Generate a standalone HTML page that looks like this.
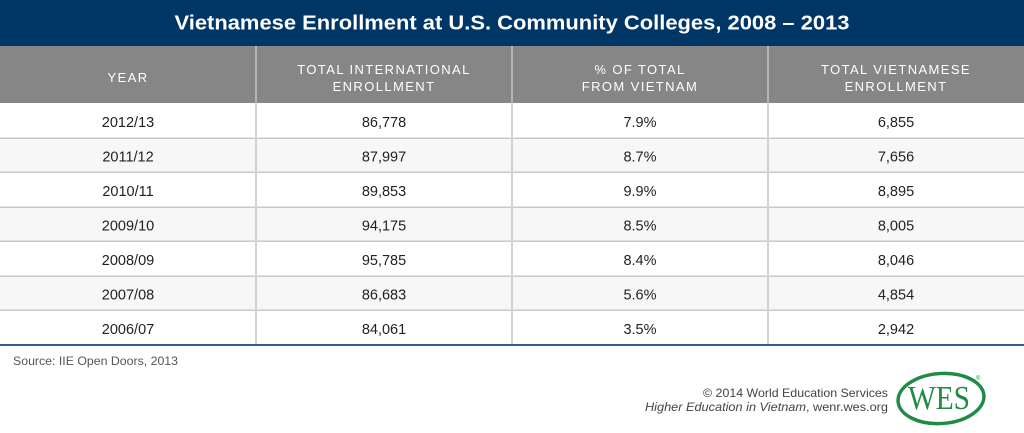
<!DOCTYPE html>
<html>
<head>
<meta charset="utf-8">
<style>
  html,body{margin:0;padding:0;background:#fff;}
  svg{display:block;}
  text{font-family:"Liberation Sans",sans-serif;}
</style>
</head>
<body>
<svg width="1024" height="433" viewBox="0 0 1024 433" xmlns="http://www.w3.org/2000/svg">
  <!-- title bar -->
  <rect x="0" y="0" width="1024" height="46" fill="#003665"/>
  <text x="512" y="29.5" text-anchor="middle" fill="#ffffff" font-size="20" font-weight="bold" textLength="675" lengthAdjust="spacingAndGlyphs">Vietnamese Enrollment at U.S. Community Colleges, 2008 – 2013</text>

  <!-- header -->
  <rect x="0" y="46" width="1024" height="57" fill="#868686"/>
  <g fill="#b4b4b4">
    <rect x="255" y="46" width="2" height="57"/>
    <rect x="511" y="46" width="2" height="57"/>
    <rect x="767" y="46" width="2" height="57"/>
  </g>
  <g fill="#ffffff" font-size="13" text-anchor="middle" letter-spacing="1.4">
    <text x="128" y="82">YEAR</text>
    <text x="384" y="74">TOTAL INTERNATIONAL</text>
    <text x="384" y="91">ENROLLMENT</text>
    <text x="640" y="74">% OF TOTAL</text>
    <text x="640" y="91">FROM VIETNAM</text>
    <text x="896" y="74">TOTAL VIETNAMESE</text>
    <text x="896" y="91">ENROLLMENT</text>
  </g>

  <!-- rows -->
  <rect x="0" y="103" width="1024" height="35" fill="#ffffff"/>
  <rect x="0" y="138" width="1024" height="34" fill="#f7f7f7"/>
  <rect x="0" y="172" width="1024" height="35" fill="#ffffff"/>
  <rect x="0" y="207" width="1024" height="34" fill="#f7f7f7"/>
  <rect x="0" y="241" width="1024" height="35" fill="#ffffff"/>
  <rect x="0" y="276" width="1024" height="34" fill="#f7f7f7"/>
  <rect x="0" y="310" width="1024" height="34" fill="#ffffff"/>

  <g fill="#c9c9c9">
    <rect x="0" y="137.5" width="1024" height="1.5"/>
    <rect x="0" y="171.5" width="1024" height="1.5"/>
    <rect x="0" y="206.5" width="1024" height="1.5"/>
    <rect x="0" y="240.5" width="1024" height="1.5"/>
    <rect x="0" y="275.5" width="1024" height="1.5"/>
    <rect x="0" y="309.5" width="1024" height="1.5"/>
  </g>
  <g fill="#d3d3d3">
    <rect x="255" y="103" width="2" height="241"/>
    <rect x="511" y="103" width="2" height="241"/>
    <rect x="767" y="103" width="2" height="241"/>
  </g>
  <rect x="0" y="344" width="1024" height="2" fill="#2f5a8c"/>

  <g fill="#222222" font-size="14.5" text-anchor="middle">
    <text x="128" y="127">2012/13</text>
    <text x="384" y="127">86,778</text>
    <text x="640" y="127">7.9%</text>
    <text x="896" y="127">6,855</text>

    <text x="128" y="161.5">2011/12</text>
    <text x="384" y="161.5">87,997</text>
    <text x="640" y="161.5">8.7%</text>
    <text x="896" y="161.5">7,656</text>

    <text x="128" y="196">2010/11</text>
    <text x="384" y="196">89,853</text>
    <text x="640" y="196">9.9%</text>
    <text x="896" y="196">8,895</text>

    <text x="128" y="230.5">2009/10</text>
    <text x="384" y="230.5">94,175</text>
    <text x="640" y="230.5">8.5%</text>
    <text x="896" y="230.5">8,005</text>

    <text x="128" y="265">2008/09</text>
    <text x="384" y="265">95,785</text>
    <text x="640" y="265">8.4%</text>
    <text x="896" y="265">8,046</text>

    <text x="128" y="299.5">2007/08</text>
    <text x="384" y="299.5">86,683</text>
    <text x="640" y="299.5">5.6%</text>
    <text x="896" y="299.5">4,854</text>

    <text x="128" y="334">2006/07</text>
    <text x="384" y="334">84,061</text>
    <text x="640" y="334">3.5%</text>
    <text x="896" y="334">2,942</text>
  </g>

  <!-- source -->
  <text x="13" y="365" fill="#555555" font-size="11.5" textLength="165" lengthAdjust="spacingAndGlyphs">Source: IIE Open Doors, 2013</text>

  <!-- footer -->
  <text x="888" y="397" text-anchor="end" fill="#444444" font-size="12" textLength="185" lengthAdjust="spacingAndGlyphs">© 2014 World Education Services</text>
  <text x="888" y="411" text-anchor="end" fill="#444444" font-size="12" textLength="243" lengthAdjust="spacingAndGlyphs"><tspan font-style="italic">Higher Education in Vietnam</tspan>, wenr.wes.org</text>

  <!-- WES logo -->
  <ellipse cx="941" cy="398.5" rx="43" ry="25" fill="none" stroke="#1f8b45" stroke-width="3.5" transform="rotate(-4 941 398.5)"/>
  <text x="939" y="409" text-anchor="middle" fill="#1f8b45" style="font-family:'Liberation Serif',serif;" font-size="34" textLength="62" lengthAdjust="spacingAndGlyphs">WES</text>
  <text x="976" y="380" fill="#1f8b45" font-size="6">®</text>
</svg>
</body>
</html>
